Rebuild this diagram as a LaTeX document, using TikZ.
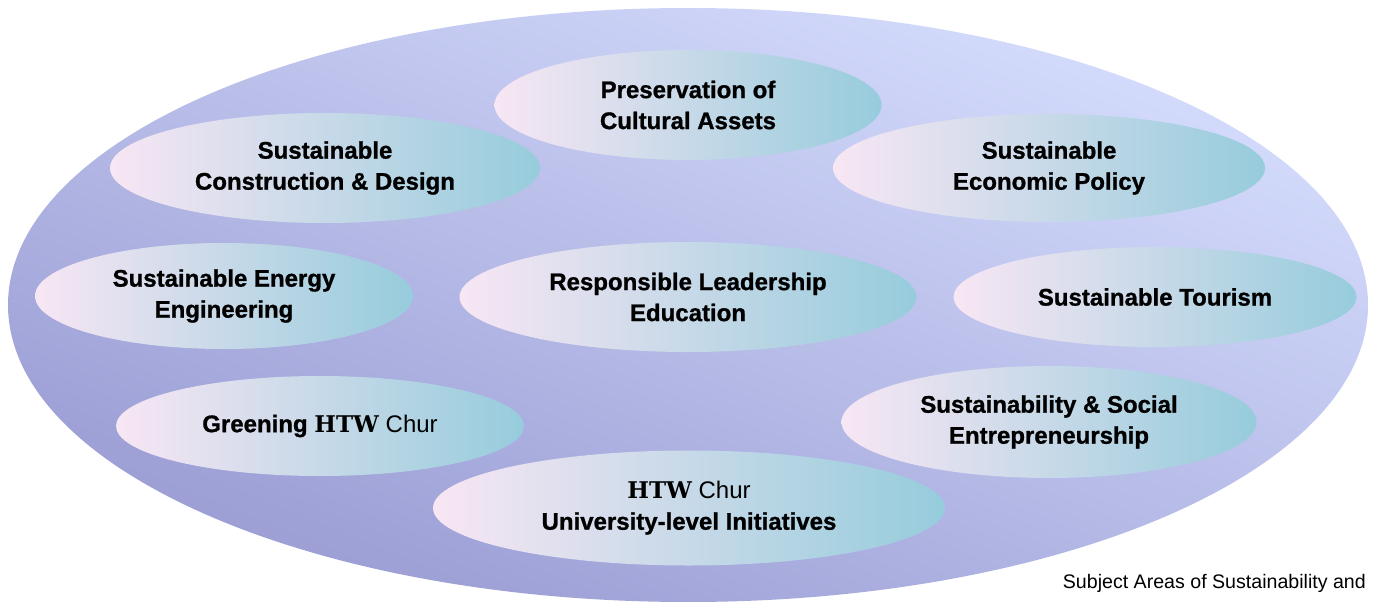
\documentclass[tikz,border=0pt]{standalone}
\usepackage{fontspec}
\setmainfont{Liberation Sans}[BoldFeatures={FakeBold=1}]
\newfontfamily\htwfont{DejaVu Serif}
\usetikzlibrary{shapes.geometric}
\definecolor{bigtop}{HTML}{D5DDFD}
\definecolor{bigmid}{HTML}{C6CCF3}
\definecolor{bigbot}{HTML}{9A9CD3}
\definecolor{pinkl}{HTML}{F8E6F4}
\definecolor{tealr}{HTML}{96CCDC}
\tikzset{
  area/.style={ellipse, inner sep=0pt, draw=none, left color=pinkl, right color=tealr,
    align=center, text=black, font=\bfseries\fontsize{24}{31}\selectfont},
  outerarea/.style={ellipse, inner sep=0pt, draw=none, top color=bigtop, middle color=bigmid, bottom color=bigbot, shading angle=-22},
  caption/.style={anchor=base east, inner sep=0pt, font=\fontsize{19.6}{22}\selectfont}
}
\newcommand{\htwlogo}{{\htwfont\bfseries\fontsize{23}{31}\selectfont HTW}}
\begin{document}
\begin{tikzpicture}[x=1pt,y=1pt]
\useasboundingbox (0,0) rectangle (1376,-602);
\node[outerarea, minimum width=1360pt, minimum height=594pt] (outer) at (688,-305) {};
\node[area, minimum width=387pt, minimum height=110pt] (pres) at (688,-105) {Preservation of\\Cultural Assets};
\node[area, minimum width=430pt, minimum height=110pt] (constr) at (325,-168) {Sustainable\\Construction \& Design};
\node[area, minimum width=432pt, minimum height=108pt] (econ) at (1049,-168) {Sustainable\\Economic Policy};
\node[area, minimum width=378pt, minimum height=106pt] (energy) at (224,-296) {Sustainable Energy\\Engineering};
\node[area, minimum width=457pt, minimum height=110pt] (lead) at (688,-297) {Responsible Leadership\\Education};
\node[area, minimum width=403pt, minimum height=100pt] (tour) at (1155,-297) {Sustainable Tourism};
\node[area, minimum width=408pt, minimum height=100pt] (green) at (320,-426) {Greening \htwlogo{} {\mdseries Chur}};
\node[area, minimum width=415pt, minimum height=112pt] (social) at (1049,-422) {Sustainability \& Social\\Entrepreneurship};
\node[area, minimum width=512pt, minimum height=115pt] (univ) at (689,-508) {\htwlogo{} {\mdseries Chur}\\University-level Initiatives};
\node[caption] (cap) at (1366,-588) {Subject Areas of Sustainability and};
\end{tikzpicture}
\end{document}
